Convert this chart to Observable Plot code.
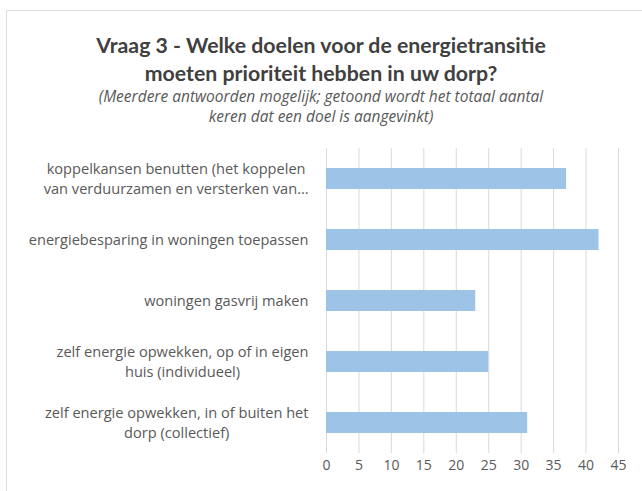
<!DOCTYPE html>
<html>
<head>
<meta charset="utf-8">
<script src="https://cdn.jsdelivr.net/npm/d3@7"></script>
<script src="https://cdn.jsdelivr.net/npm/@observablehq/plot@0.6"></script>
<style>
  html, body { margin: 0; padding: 0; background: #fff; }
  #wrap { position: relative; width: 642px; height: 491px; overflow: hidden; font-family: "Open Sans", sans-serif; }
  #frame { position: absolute; left: 6px; top: 10px; width: 700px; height: 600px; border-left: 1px solid #dedede; border-top: 1px solid #dedede; }
  #title { position: absolute; left: 0; width: 642px; top: 31px; text-align: center; font-family: Lato, sans-serif; font-size: 21.3px; font-weight: bold; line-height: 28px; color: #404040; }
  #subtitle { position: absolute; left: 0; width: 642px; top: 86px; text-align: center; font-size: 15.5px; font-style: italic; line-height: 20px; color: #595959; }
  #chart { position: absolute; left: 0; top: 130px; }
</style>
</head>
<body>
<div id="wrap">
  <div id="frame"></div>
  <div id="title">Vraag 3 - Welke doelen voor de energietransitie<br>moeten prioriteit hebben in uw dorp?</div>
  <div id="subtitle">(Meerdere antwoorden mogelijk; getoond wordt het totaal aantal<br>keren dat een doel is aangevinkt)</div>
  <div id="chart"></div>
</div>
<script>
const categories = [
  "koppelkansen benutten (het koppelen\nvan verduurzamen en versterken van…",
  "energiebesparing in woningen toepassen",
  "woningen gasvrij maken",
  "zelf energie opwekken, op of in eigen\nhuis (individueel)",
  "zelf energie opwekken, in of buiten het\ndorp (collectief)"
];
const counts = [37, 42, 23, 25, 31];
const xTicks = [0, 5, 10, 15, 20, 25, 30, 35, 40, 45];

const data = categories.map((c, i) => ({category: c, count: counts[i]}));

const labelSize = 14.6;
const lineStep = 20;
const labelGap = 18;

// measure text widths with a hidden SVG text element
const NS = "http://www.w3.org/2000/svg";
const msvg = document.createElementNS(NS, "svg");
msvg.setAttribute("style", "position:absolute;left:-9999px;top:0");
const mtext = document.createElementNS(NS, "text");
mtext.setAttribute("font-family", "'Open Sans', sans-serif");
mtext.setAttribute("font-size", labelSize);
msvg.appendChild(mtext);
document.body.appendChild(msvg);
const measure = (s) => { mtext.textContent = s; return mtext.getComputedTextLength(); };

// Category labels: each block right-aligned against the axis, its lines centred within the block
const labelMarks = categories.flatMap((c) => {
  const lines = c.split("\n");
  const w = Math.max(...lines.map(measure));
  return lines.map((line, j) =>
    Plot.text([c], {
      x: () => 0,
      y: (d) => d,
      text: () => line,
      textAnchor: "middle",
      dx: -(labelGap + w / 2),
      dy: (j - (lines.length - 1) / 2) * lineStep,
      fontSize: labelSize,
      fill: "#595959"
    })
  );
});
msvg.remove();

const chart = Plot.plot({
  width: 642,
  height: 361,
  marginTop: 18,
  marginBottom: 38,
  marginLeft: 326,
  marginRight: 24,
  style: {fontFamily: "'Open Sans', sans-serif", fontSize: "14px", color: "#595959", background: "transparent"},
  x: {domain: [0, 45], ticks: xTicks, label: null},
  y: {domain: categories, paddingInner: 0.656, paddingOuter: 0.328, label: null, axis: null},
  marks: [
    Plot.gridX(xTicks, {stroke: "#d9d9d9", strokeOpacity: 1}),
    Plot.ruleX([0], {stroke: "#d9d9d9"}),
    Plot.barX(data, {x: "count", y: "category", fill: "#9dc3e6"}),
    Plot.axisX(xTicks, {tickSize: 0, tickPadding: 7, fontSize: 14, fill: "#595959", label: null}),
    ...labelMarks
  ]
});
document.getElementById("chart").appendChild(chart);
</script>
</body>
</html>
